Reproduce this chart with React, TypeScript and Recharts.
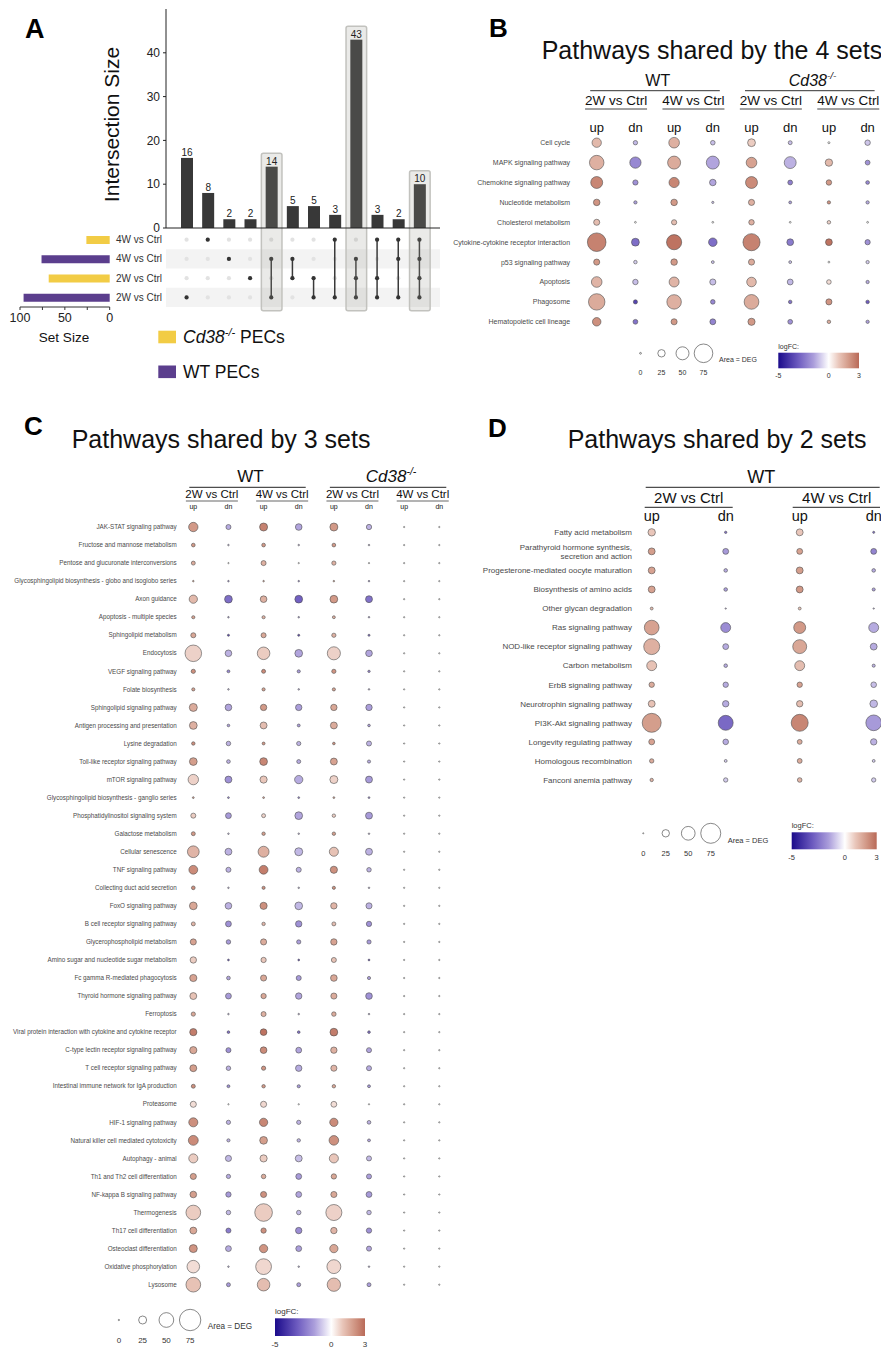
import React from 'react';
import {
  BarChart,
  Bar,
  XAxis,
  YAxis,
  ScatterChart,
  Scatter,
  ZAxis,
  ReferenceArea,
  ReferenceLine,
  LabelList,
  Cell,
} from 'recharts';

const FONT = '"Liberation Sans", Arial, Helvetica, sans-serif';
const YELLOW = '#f2cc45';
const PURPLE = '#5b3e8d';
const BAR_DARK = '#383838';

// ---------------- Panel A: UpSet plot ----------------
const setLabels = ['4W vs Ctrl', '4W vs Ctrl', '2W vs Ctrl', '2W vs Ctrl'];
const setGenotypes = ['Cd38', 'WT', 'Cd38', 'WT'];
const setSizes = [26, 76, 68, 96];
const setSizeTicks = [0, 25, 50, 75, 100];
const intersectionSizes = [16, 8, 2, 2, 14, 5, 5, 3, 43, 3, 2, 10];
const intersectionSets = [
  [3], [0], [1], [2], [1, 3], [1, 2], [2, 3], [0, 3], [1, 2, 3], [0, 2, 3], [0, 1, 3], [0, 1, 2, 3],
];
const highlightedIntersections = [4, 8, 11];
const intersectionTicks = [0, 10, 20, 30, 40];

// ---------------- Bubble panels ----------------
const columnLabels = ['up', 'dn'];
const contrastLabels = ['2W vs Ctrl', '4W vs Ctrl'];
const sizeLegendValues = [0, 25, 50, 75];
const fcLegendTicks = [-5, 0, 3];

// Panel B: pathways shared by the 4 sets
// columns: WT 2W up, WT 2W dn, WT 4W up, WT 4W dn, Cd38 2W up, Cd38 2W dn, Cd38 4W up, Cd38 4W dn
const pathwaysB = [
  'Cell cycle',
  'MAPK signaling pathway',
  'Chemokine signaling pathway',
  'Nucleotide metabolism',
  'Cholesterol metabolism',
  'Cytokine-cytokine receptor interaction',
  'p53 signaling pathway',
  'Apoptosis',
  'Phagosome',
  'Hematopoietic cell lineage',
];
const degB = [
  [35, 12, 41, 13, 28, 10, 1, 17],
  [59, 44, 52, 52, 41, 47, 26, 14],
  [47, 16, 39, 22, 47, 14, 17, 9],
  [22, 7, 22, 2, 20, 5, 7, 7],
  [20, 0, 16, 0, 17, 0, 8, 0],
  [78, 28, 62, 31, 71, 23, 23, 16],
  [20, 8, 22, 5, 20, 5, 0, 7],
  [41, 17, 38, 20, 36, 19, 13, 7],
  [68, 11, 59, 13, 60, 8, 20, 8],
  [31, 14, 20, 19, 25, 14, 8, 7],
];
const fcB = [
  [1.3, -1.1, 1.5, -1.0, 0.9, -1.0, 0, -0.9],
  [1.5, -2.0, 1.6, -1.4, 1.8, -1.2, 1.3, -1.8],
  [2.4, -1.8, 2.4, -1.4, 2.3, -2.2, 2.0, -2.0],
  [2.1, -1.5, 2.0, -1.0, 1.5, -1.5, 2.1, -1.3],
  [1.2, 0, 1.2, 0, 1.5, 0, 0.8, 0],
  [2.5, -2.6, 2.8, -2.6, 2.5, -2.3, 2.8, -1.8],
  [2.0, -0.8, 2.0, -1.0, 1.6, -1.0, 0, -0.8],
  [1.4, -1.0, 1.4, -1.0, 1.3, -1.1, 0.6, -1.3],
  [1.6, -3.6, 1.5, -2.0, 1.6, -2.5, 2.1, -3.0],
  [2.2, -2.5, 2.0, -2.1, 2.0, -1.8, 1.6, -1.5],
];

// Panel C: pathways shared by 3 sets
const pathwaysC = [
  'JAK-STAT signaling pathway',
  'Fructose and mannose metabolism',
  'Pentose and glucuronate interconversions',
  'Glycosphingolipid biosynthesis - globo and isoglobo series',
  'Axon guidance',
  'Apoptosis - multiple species',
  'Sphingolipid metabolism',
  'Endocytosis',
  'VEGF signaling pathway',
  'Folate biosynthesis',
  'Sphingolipid signaling pathway',
  'Antigen processing and presentation',
  'Lysine degradation',
  'Toll-like receptor signaling pathway',
  'mTOR signaling pathway',
  'Glycosphingolipid biosynthesis - ganglio series',
  'Phosphatidylinositol signaling system',
  'Galactose metabolism',
  'Cellular senescence',
  'TNF signaling pathway',
  'Collecting duct acid secretion',
  'FoxO signaling pathway',
  'B cell receptor signaling pathway',
  'Glycerophospholipid metabolism',
  'Amino sugar and nucleotide sugar metabolism',
  'Fc gamma R-mediated phagocytosis',
  'Thyroid hormone signaling pathway',
  'Ferroptosis',
  'Viral protein interaction with cytokine and cytokine receptor',
  'C-type lectin receptor signaling pathway',
  'T cell receptor signaling pathway',
  'Intestinal immune network for IgA production',
  'Proteasome',
  'HIF-1 signaling pathway',
  'Natural killer cell mediated cytotoxicity',
  'Autophagy - animal',
  'Th1 and Th2 cell differentiation',
  'NF-kappa B signaling pathway',
  'Thermogenesis',
  'Th17 cell differentiation',
  'Osteoclast differentiation',
  'Oxidative phosphorylation',
  'Lysosome',
];
const degC = [
  [30, 14, 25, 20, 25, 15, 0, 0],
  [9, 1, 9, 1, 9, 1, 0, 0],
  [10, 0, 14, 0, 11, 0, 0, 0],
  [1, 1, 1, 1, 1, 1, 0, 0],
  [26, 24, 20, 24, 24, 21, 0, 0],
  [7, 1, 7, 1, 6, 1, 0, 0],
  [14, 3, 14, 3, 11, 3, 0, 0],
  [57, 20, 42, 24, 44, 20, 0, 0],
  [11, 6, 10, 7, 11, 4, 0, 0],
  [7, 1, 7, 1, 7, 1, 0, 0],
  [25, 20, 19, 19, 19, 19, 0, 0],
  [24, 5, 21, 6, 21, 5, 0, 0],
  [8, 12, 6, 11, 5, 14, 0, 0],
  [24, 9, 24, 10, 21, 7, 0, 0],
  [34, 21, 22, 26, 25, 21, 0, 0],
  [2, 2, 2, 2, 2, 2, 0, 0],
  [14, 17, 10, 24, 8, 21, 0, 0],
  [10, 1, 8, 1, 8, 1, 0, 0],
  [39, 21, 36, 25, 29, 21, 0, 0],
  [28, 14, 28, 14, 22, 12, 0, 0],
  [9, 1, 7, 1, 7, 1, 0, 0],
  [24, 20, 22, 24, 19, 18, 0, 0],
  [10, 17, 8, 19, 10, 15, 0, 0],
  [18, 12, 18, 11, 19, 11, 0, 0],
  [19, 2, 15, 2, 14, 2, 0, 0],
  [22, 9, 18, 14, 20, 7, 0, 0],
  [21, 17, 15, 19, 18, 20, 0, 0],
  [11, 1, 14, 1, 12, 1, 0, 0],
  [22, 5, 20, 5, 24, 5, 0, 0],
  [22, 14, 20, 17, 19, 14, 0, 0],
  [21, 12, 11, 19, 18, 14, 0, 0],
  [10, 6, 8, 7, 8, 6, 0, 0],
  [18, 0, 18, 0, 17, 0, 0, 0],
  [29, 11, 26, 11, 26, 9, 0, 0],
  [32, 7, 24, 8, 31, 6, 0, 0],
  [29, 18, 22, 21, 29, 14, 0, 0],
  [18, 11, 12, 17, 15, 14, 0, 0],
  [20, 15, 18, 17, 18, 17, 0, 0],
  [50, 12, 61, 12, 55, 12, 0, 0],
  [21, 14, 15, 19, 19, 15, 0, 0],
  [25, 17, 26, 17, 26, 14, 0, 0],
  [42, 1, 54, 1, 47, 1, 0, 0],
  [50, 10, 42, 10, 45, 10, 0, 0],
];
const fcC = [
  [2.0, -1.3, 2.5, -1.4, 2.0, -1.2, 0, 0],
  [2.0, -1.0, 2.0, -1.0, 2.0, -1.0, 0, 0],
  [1.6, 0, 1.5, 0, 1.5, 0, 0, 0],
  [1.5, -1.5, 1.5, -1.5, 1.5, -1.5, 0, 0],
  [1.3, -2.6, 1.5, -2.9, 2.0, -2.5, 0, 0],
  [1.8, -1.5, 1.5, -1.5, 1.5, -1.5, 0, 0],
  [1.7, -3.5, 1.7, -3.5, 1.5, -2.5, 0, 0],
  [0.8, -1.2, 0.9, -1.4, 0.8, -1.4, 0, 0],
  [2.2, -2.0, 2.3, -1.6, 2.1, -2.0, 0, 0],
  [1.8, -1.0, 1.8, -1.0, 1.8, -1.0, 0, 0],
  [1.6, -1.4, 2.0, -1.5, 1.7, -1.5, 0, 0],
  [1.5, -1.5, 1.2, -1.5, 1.6, -1.5, 0, 0],
  [2.2, -1.2, 2.0, -1.2, 2.2, -1.2, 0, 0],
  [1.9, -1.2, 2.4, -1.3, 1.8, -1.3, 0, 0],
  [0.8, -1.8, 1.0, -1.3, 0.8, -1.6, 0, 0],
  [1.8, -2.0, 1.8, -2.0, 1.8, -2.0, 0, 0],
  [0.9, -1.6, 0.8, -1.4, 0.9, -1.6, 0, 0],
  [2.0, -1.0, 1.9, -1.0, 1.9, -1.0, 0, 0],
  [1.4, -1.2, 1.5, -1.1, 1.1, -1.2, 0, 0],
  [2.3, -1.2, 2.6, -1.2, 2.2, -1.2, 0, 0],
  [2.2, -1.0, 2.2, -1.0, 2.2, -1.0, 0, 0],
  [1.7, -1.2, 2.2, -1.1, 1.4, -1.2, 0, 0],
  [1.4, -1.8, 1.4, -1.8, 1.2, -1.8, 0, 0],
  [1.8, -1.6, 1.6, -1.5, 1.8, -1.6, 0, 0],
  [0.9, -3.0, 1.0, -3.0, 1.1, -3.0, 0, 0],
  [1.8, -1.4, 1.7, -1.6, 1.7, -1.5, 0, 0],
  [1.1, -1.6, 1.7, -1.4, 1.6, -1.8, 0, 0],
  [1.7, -1.0, 1.5, -1.0, 1.6, -1.0, 0, 0],
  [2.6, -2.5, 2.8, -2.5, 2.6, -2.5, 0, 0],
  [1.7, -1.8, 2.3, -1.4, 1.5, -1.4, 0, 0],
  [1.9, -1.2, 2.1, -1.3, 1.4, -1.3, 0, 0],
  [2.2, -1.8, 2.0, -1.6, 1.7, -1.6, 0, 0],
  [0.6, 0, 0.7, 0, 0.6, 0, 0, 0],
  [2.2, -1.2, 2.4, -1.2, 2.3, -1.2, 0, 0],
  [2.3, -1.2, 1.9, -1.2, 2.2, -1.4, 0, 0],
  [0.9, -1.1, 0.9, -1.0, 1.0, -1.1, 0, 0],
  [1.9, -1.3, 1.6, -1.6, 1.7, -1.5, 0, 0],
  [1.9, -1.6, 2.2, -1.4, 1.7, -1.6, 0, 0],
  [0.9, -1.1, 0.9, -1.1, 0.8, -1.1, 0, 0],
  [1.7, -2.3, 2.2, -1.9, 1.4, -1.8, 0, 0],
  [2.1, -1.3, 2.1, -1.5, 1.7, -1.4, 0, 0],
  [0.6, -1.0, 0.7, -1.0, 0.7, -1.0, 0, 0],
  [1.1, -1.6, 1.2, -1.5, 1.2, -1.5, 0, 0],
];

// Panel D: pathways shared by 2 sets (WT 2W up, WT 2W dn, WT 4W up, WT 4W dn)
const pathwaysD = [
  'Fatty acid metabolism',
  'Parathyroid hormone synthesis,\nsecretion and action',
  'Progesterone-mediated oocyte maturation',
  'Biosynthesis of amino acids',
  'Other glycan degradation',
  'Ras signaling pathway',
  'NOD-like receptor signaling pathway',
  'Carbon metabolism',
  'ErbB signaling pathway',
  'Neurotrophin signaling pathway',
  'PI3K-Akt signaling pathway',
  'Longevity regulating pathway',
  'Homologous recombination',
  'Fanconi anemia pathway',
];
const degD = [
  [25, 5, 23, 4],
  [23, 19, 19, 19],
  [23, 10, 23, 10],
  [23, 10, 23, 8],
  [7, 1, 7, 1],
  [54, 35, 43, 35],
  [59, 19, 51, 23],
  [35, 10, 35, 8],
  [17, 17, 17, 18],
  [23, 21, 21, 26],
  [71, 55, 63, 58],
  [19, 18, 15, 21],
  [13, 7, 15, 7],
  [9, 13, 14, 13],
];
const fcD = [
  [1.0, -2.5, 1.0, -2.5],
  [1.9, -1.6, 1.8, -2.1],
  [1.8, -1.3, 1.9, -1.3],
  [1.8, -1.5, 2.0, -1.5],
  [1.2, -1.0, 1.0, -1.0],
  [1.8, -1.9, 2.0, -1.3],
  [1.5, -1.3, 1.7, -1.3],
  [1.1, -1.3, 1.2, -1.2],
  [1.6, -1.3, 1.8, -1.0],
  [1.1, -1.3, 1.2, -1.1],
  [1.9, -2.7, 2.4, -1.6],
  [1.8, -1.3, 1.6, -1.2],
  [1.6, -0.8, 1.6, -0.8],
  [1.4, -0.8, 1.4, -0.8],
];

// logFC colour scale (-5 .. 0 .. 3)
const fcStops: Array<[number, number[]]> = [
  [-5, [27, 11, 139]],
  [-3, [110, 92, 192]],
  [-1.5, [171, 158, 219]],
  [0, [255, 255, 255]],
  [1, [233, 198, 186]],
  [2, [210, 153, 135]],
  [3, [185, 106, 88]],
];
function fcColor(v: number): string {
  const x = Math.max(-5, Math.min(3, v));
  for (let i = 1; i < fcStops.length; i++) {
    const [v0, c0] = fcStops[i - 1];
    const [v1, c1] = fcStops[i];
    if (x <= v1) {
      const t = (x - v0) / (v1 - v0);
      return `rgb(${c0.map((c, k) => Math.round(c + (c1[k] - c) * t)).join(',')})`;
    }
  }
  return 'rgb(185,106,88)';
}

// ---------------- layout of bubble panels ----------------
type PanelCfg = {
  left: number;
  top: number;
  plotLeft: number;
  plotTop: number;
  stepX: number;
  stepY: number;
  padX0: number;
  padX1: number;
  nCols: number;
  labelFont: number;
  labelGap: number;
  rRange: [number, number];
};

const cfgB: PanelCfg = {
  left: 440, top: 0, plotLeft: 585.1, plotTop: 132.75, stepX: 38.7, stepY: 19.9,
  padX0: 0.3, padX1: 0.3, nCols: 8, labelFont: 7, labelGap: 15, rRange: [0.9, 9.3],
};
const cfgC: PanelCfg = {
  left: 0, top: 380, plotLeft: 177.5, plotTop: 518, stepX: 35.14, stepY: 18.04,
  padX0: 0.45, padX1: 0.45, nCols: 8, labelFont: 6.3, labelGap: 0.8, rRange: [0.65, 10.7],
};
const cfgD: PanelCfg = {
  left: 440, top: 380, plotLeft: 633.2, plotTop: 522.8, stepX: 74, stepY: 19.05,
  padX0: 0.25, padX1: 0.09, nCols: 4, labelFont: 8, labelGap: 1.2, rRange: [0.55, 10.0],
};

const colX = (cfg: PanelCfg, i: number) => cfg.plotLeft + (i + cfg.padX0) * cfg.stepX;

// ---------------- shapes / ticks ----------------
const renderBubble = (props: any) => {
  const { cx, cy, size } = props;
  const fc = props.payload?.fc ?? props.fc ?? 0;
  const r = Number.isFinite(size) ? Math.max(size, 0.5) : 2;
  return <circle cx={cx} cy={cy} r={r} fill={fcColor(fc)} stroke="#4f4f4f" strokeWidth={0.6} />;
};

const renderOpenCircle = (props: any) => {
  const { cx, cy, size } = props;
  const r = Number.isFinite(size) ? Math.max(size, 0.5) : 2;
  return <circle cx={cx} cy={cy} r={r} fill="none" stroke="#555" strokeWidth={0.7} />;
};

function PathwayTick(props: any) {
  const { x, y, payload, names, fontSize } = props;
  const lines = String(names[payload.value] ?? '').split('\n');
  const lh = fontSize * 1.13;
  const y0 = y - ((lines.length - 1) * lh) / 2 + fontSize * 0.35;
  return (
    <text x={x} y={y0} textAnchor="end" fontSize={fontSize} fill="#4a4a4a" fontFamily={FONT}>
      {lines.map((l, i) => (
        <tspan key={i} x={x} dy={i === 0 ? 0 : lh}>
          {l}
        </tspan>
      ))}
    </text>
  );
}

function BubblePanel({ cfg, pathways, deg, fc }: { cfg: PanelCfg; pathways: string[]; deg: number[][]; fc: number[][] }) {
  const cells: any[] = [];
  deg.forEach((row, r) =>
    row.forEach((d, c) => cells.push({ col: c, row: r, deg: d, fc: fc[r][c], pathway: pathways[r] })),
  );
  const nRows = pathways.length;
  const yAxisWidth = cfg.plotLeft - cfg.left;
  const plotW = (cfg.nCols - 1 + cfg.padX0 + cfg.padX1) * cfg.stepX;
  const width = yAxisWidth + plotW + 1;
  const plotH = nRows * cfg.stepY;
  const marginTop = cfg.plotTop - cfg.top;
  const height = marginTop + plotH + 5;
  return (
    <div style={{ position: 'absolute', left: cfg.left, top: cfg.top }}>
      <ScatterChart width={width} height={height} margin={{ top: marginTop, right: 1, bottom: 5, left: 0 }}>
        <XAxis type="number" dataKey="col" domain={[-cfg.padX0, cfg.nCols - 1 + cfg.padX1]} hide />
        <YAxis
          type="number"
          dataKey="row"
          domain={[-0.5, nRows - 0.5]}
          reversed
          ticks={pathways.map((_, i) => i)}
          interval={0}
          width={yAxisWidth}
          axisLine={false}
          tickLine={false}
          tickSize={0}
          tickMargin={cfg.labelGap}
          tick={<PathwayTick names={pathways} fontSize={cfg.labelFont} />}
        />
        <ZAxis type="number" dataKey="deg" domain={[0, 75]} range={cfg.rRange} />
        <Scatter data={cells} shape={renderBubble} isAnimationActive={false} />
      </ScatterChart>
    </div>
  );
}

function SizeLegend({ left, top, width, height, axisH, gap, font, rRange }: any) {
  const data = sizeLegendValues.map((d, i) => ({ col: i, row: 0.5, deg: d }));
  return (
    <div style={{ position: 'absolute', left, top }}>
      <ScatterChart width={width} height={height} margin={{ top: 0, right: 0, bottom: 0, left: 0 }}>
        <XAxis
          type="number"
          dataKey="col"
          domain={[-0.5, 3.5]}
          ticks={[0, 1, 2, 3]}
          interval={0}
          tickFormatter={(i: number) => String(sizeLegendValues[i])}
          height={axisH}
          axisLine={false}
          tickLine={false}
          tickSize={0}
          tickMargin={gap}
          tick={{ fontSize: font, fill: '#333' }}
        />
        <YAxis type="number" dataKey="row" domain={[0, 1]} hide />
        <ZAxis type="number" dataKey="deg" domain={[0, 75]} range={rRange} />
        <Scatter data={data} shape={renderOpenCircle} isAnimationActive={false} />
      </ScatterChart>
    </div>
  );
}

// ---------------- UpSet panel ----------------
const IntersectionBar = (props: any) => {
  const { x, y, width, height, index } = props;
  const hi = props.payload?.hi ?? highlightedIntersections.includes(index);
  return (
    <g>
      <rect x={x} y={y} width={width} height={height} fill={BAR_DARK} />
      {hi && (
        <rect
          x={x - 4.3}
          y={y - 13.5}
          width={width + 8.6}
          height={height + 13.5 + 82.7}
          rx={2}
          fill="rgba(150,150,140,0.2)"
          stroke="#c2c2be"
          strokeWidth={1.5}
        />
      )}
    </g>
  );
};

const dotShape = (fill: string) => (props: any) => <circle cx={props.cx} cy={props.cy} r={2.1} fill={fill} />;

function UpSetPanel() {
  const barData = intersectionSizes.map((v, i) => ({
    id: `I${i + 1}`,
    size: v,
    hi: highlightedIntersections.includes(i),
  }));
  const gridPoints: any[] = [];
  intersectionSets.forEach((_, c) => setLabels.forEach((__, r) => gridPoints.push({ col: c, row: r })));
  const setData = setLabels.map((n, i) => ({ name: `${setGenotypes[i]} ${n}`, size: setSizes[i], g: setGenotypes[i] }));
  return (
    <>
      {/* membership matrix */}
      <div style={{ position: 'absolute', left: 0, top: 230 }}>
        <ScatterChart width={440} height={77} margin={{ top: 0, right: 0, bottom: 0, left: 0 }}>
          <XAxis type="number" dataKey="col" domain={[-0.9724, 11.9724]} hide />
          <YAxis
            type="number"
            dataKey="row"
            domain={[-0.5, 3.5]}
            reversed
            ticks={[0, 1, 2, 3]}
            interval={0}
            tickFormatter={(v: number) => setLabels[v]}
            width={166}
            axisLine={false}
            tickLine={false}
            tickSize={2}
            tickMargin={2}
            tick={{ fontSize: 10, fill: '#333' }}
          />
          <ReferenceArea y1={0.5} y2={1.5} fill="#e4e4e4" fillOpacity={0.45} stroke="none" />
          <ReferenceArea y1={2.5} y2={3.5} fill="#e4e4e4" fillOpacity={0.45} stroke="none" />
          <Scatter data={gridPoints} shape={dotShape('#e2e2e2')} isAnimationActive={false} />
          {intersectionSets.map((members, c) => (
            <Scatter
              key={c}
              data={members.map((r) => ({ col: c, row: r }))}
              line={{ stroke: '#3a3a3a', strokeWidth: 1.5 }}
              shape={dotShape('#333')}
              isAnimationActive={false}
            />
          ))}
        </ScatterChart>
      </div>
      {/* set sizes */}
      <div style={{ position: 'absolute', left: 0, top: 230 }}>
        <BarChart
          layout="vertical"
          width={166}
          height={107}
          data={setData}
          margin={{ top: 0, right: 56.3, left: 20, bottom: 0 }}
        >
          <XAxis
            type="number"
            domain={[0, 100]}
            reversed
            ticks={setSizeTicks}
            interval={0}
            tickFormatter={(v: number) => (v % 50 === 0 ? String(v) : '')}
            height={30}
            tick={{ fontSize: 12.5, fill: '#222' }}
            tickSize={3}
            tickMargin={3}
            axisLine={{ stroke: '#333' }}
            tickLine={{ stroke: '#333' }}
          />
          <YAxis type="category" dataKey="name" hide />
          <Bar dataKey="size" barSize={8} isAnimationActive={false}>
            {setData.map((d, i) => (
              <Cell key={i} fill={d.g === 'WT' ? PURPLE : YELLOW} />
            ))}
          </Bar>
        </BarChart>
      </div>
      {/* intersection sizes */}
      <div style={{ position: 'absolute', left: 0, top: 0 }}>
        <BarChart width={440} height={320} data={barData} margin={{ top: 9, right: 0, left: 0, bottom: 92 }}>
          <XAxis dataKey="id" hide padding={{ left: 10, right: 10 }} />
          <YAxis
            width={166}
            domain={[0, 50]}
            ticks={intersectionTicks}
            interval={0}
            tick={{ fontSize: 12, fill: '#222' }}
            tickSize={3}
            tickMargin={3}
            axisLine={{ stroke: '#222' }}
            tickLine={{ stroke: '#222' }}
          />
          <ReferenceLine y={0} stroke="#222" />
          <Bar dataKey="size" barSize={12} isAnimationActive={false} shape={IntersectionBar}>
            <LabelList dataKey="size" position="top" offset={2} style={{ fontSize: 10, fill: '#222' }} />
          </Bar>
        </BarChart>
      </div>
    </>
  );
}

// ---------------- header / legend text ----------------
function Cd38Text({ x, y, size, anchor = 'middle' }: any) {
  return (
    <text x={x} y={y} fontSize={size} textAnchor={anchor} fill="#111" fontStyle="italic">
      <tspan>Cd38</tspan>
      <tspan fontSize={size * 0.62} dy={-size * 0.42}>
        -/-
      </tspan>
    </text>
  );
}

type HeaderSpec = {
  groups: { label: string; italic?: boolean; cols: [number, number] }[];
  groupBase: number;
  groupFont: number;
  groupDx: number;
  groupLineY: number;
  groupLineOff: [number, number];
  groupLineColor: string;
  pairs: [number, number][];
  subBase: number;
  subFont: number;
  subDx: number;
  subLineY: number;
  subLineW: number;
  subLineColor: string;
  subLineWidth: number;
  udBase: number;
  udFont: number;
};

function PanelHeader({ cfg, spec }: { cfg: PanelCfg; spec: HeaderSpec }) {
  const out: React.ReactNode[] = [];
  spec.groups.forEach((g, gi) => {
    const a = colX(cfg, g.cols[0]);
    const b = colX(cfg, g.cols[1]);
    const cx = (a + b) / 2 + spec.groupDx;
    out.push(
      <line
        key={`gl${gi}`}
        x1={a + spec.groupLineOff[0]}
        x2={Math.min(b + spec.groupLineOff[1], 880)}
        y1={spec.groupLineY}
        y2={spec.groupLineY}
        stroke={spec.groupLineColor}
        strokeWidth={1}
      />,
    );
    out.push(
      g.italic ? (
        <Cd38Text key={`gt${gi}`} x={cx} y={spec.groupBase} size={spec.groupFont} />
      ) : (
        <text key={`gt${gi}`} x={cx} y={spec.groupBase} fontSize={spec.groupFont} textAnchor="middle" fill="#111">
          {g.label}
        </text>
      ),
    );
  });
  spec.pairs.forEach((p, pi) => {
    const cx = (colX(cfg, p[0]) + colX(cfg, p[1])) / 2 + spec.subDx;
    out.push(
      <text key={`st${pi}`} x={cx} y={spec.subBase} fontSize={spec.subFont} textAnchor="middle" fill="#111">
        {contrastLabels[pi % 2]}
      </text>,
    );
    out.push(
      <line
        key={`sl${pi}`}
        x1={cx - spec.subLineW / 2}
        x2={Math.min(cx + spec.subLineW / 2, 880)}
        y1={spec.subLineY}
        y2={spec.subLineY}
        stroke={spec.subLineColor}
        strokeWidth={spec.subLineWidth}
      />,
    );
  });
  for (let i = 0; i < cfg.nCols; i++) {
    out.push(
      <text key={`ud${i}`} x={colX(cfg, i)} y={spec.udBase} fontSize={spec.udFont} textAnchor="middle" fill="#111">
        {columnLabels[i % 2]}
      </text>,
    );
  }
  return <g>{out}</g>;
}

function ColorLegend({ x, y, w, h, titleBase, tickBase, font }: any) {
  return (
    <g>
      <text x={x} y={titleBase} fontSize={font} fill="#333">
        logFC:
      </text>
      <rect x={x} y={y} width={w} height={h} fill="url(#fcGrad)" />
      {fcLegendTicks.map((v) => (
        <text key={v} x={x + ((v + 5) / 8) * w} y={tickBase} fontSize={font} textAnchor="middle" fill="#333">
          {v}
        </text>
      ))}
    </g>
  );
}

const headerB: HeaderSpec = {
  groups: [
    { label: 'WT', cols: [0, 3] },
    { label: 'Cd38', italic: true, cols: [4, 7] },
  ],
  groupBase: 86, groupFont: 16, groupDx: 3, groupLineY: 90.7, groupLineOff: [-6.5, 7], groupLineColor: '#333',
  pairs: [[0, 1], [2, 3], [4, 5], [6, 7]],
  subBase: 105, subFont: 13.5, subDx: 0, subLineY: 109, subLineW: 62, subLineColor: '#444', subLineWidth: 1,
  udBase: 131.5, udFont: 13,
};
const headerC: HeaderSpec = {
  groups: [
    { label: 'WT', cols: [0, 3] },
    { label: 'Cd38', italic: true, cols: [4, 7] },
  ],
  groupBase: 481.7, groupFont: 17, groupDx: 4.5, groupLineY: 487.3, groupLineOff: [-4, 7], groupLineColor: '#222',
  pairs: [[0, 1], [2, 3], [4, 5], [6, 7]],
  subBase: 498.3, subFont: 11.5, subDx: 1, subLineY: 501, subLineW: 52, subLineColor: '#9a9a9a', subLineWidth: 1.3,
  udBase: 508.5, udFont: 7,
};
const headerD: HeaderSpec = {
  groups: [{ label: 'WT', cols: [0, 3] }],
  groupBase: 482.7, groupFont: 18, groupDx: -1.5, groupLineY: 487.3, groupLineOff: [-6, 6], groupLineColor: '#222',
  pairs: [[0, 1], [2, 3]],
  subBase: 503.3, subFont: 15, subDx: 0, subLineY: 507.3, subLineW: 88, subLineColor: '#222', subLineWidth: 1,
  udBase: 520.5, udFont: 14.5,
};

function Overlay() {
  return (
    <svg
      width={881}
      height={1348}
      style={{ position: 'absolute', left: 0, top: 0, pointerEvents: 'none' }}
      fontFamily={FONT}
    >
      <defs>
        <linearGradient id="fcGrad" x1="0" x2="1" y1="0" y2="0">
          {fcStops.map(([v, c]) => (
            <stop key={v} offset={(v + 5) / 8} stopColor={`rgb(${c.join(',')})`} />
          ))}
        </linearGradient>
      </defs>

      {/* panel letters */}
      <text x={25} y={38} fontSize={27} fontWeight="bold" fill="#000">A</text>
      <text x={489} y={37} fontSize={26} fontWeight="bold" fill="#000">B</text>
      <text x={24} y={435} fontSize={26} fontWeight="bold" fill="#000">C</text>
      <text x={488} y={437} fontSize={26} fontWeight="bold" fill="#000">D</text>

      {/* panel A texts */}
      <text transform="translate(118.5,124.5) rotate(-90)" textAnchor="middle" fontSize={21} fill="#111">
        Intersection Size
      </text>
      <text x={64} y={342.3} textAnchor="middle" fontSize={13.5} fill="#111">Set Size</text>
      <rect x={158.3} y={330.7} width={17.7} height={12.6} fill={YELLOW} />
      <text x={183} y={342.7} fontSize={17.5} fill="#111">
        <tspan fontStyle="italic">Cd38</tspan>
        <tspan fontStyle="italic" fontSize={11} dy={-7}>-/-</tspan>
        <tspan dy={7}> PECs</tspan>
      </text>
      <rect x={158.3} y={365.5} width={17.7} height={12.6} fill={PURPLE} />
      <text x={183} y={378} fontSize={17.5} fill="#111">WT PECs</text>

      {/* titles */}
      <text x={541.7} y={58.5} fontSize={25} fill="#111">Pathways shared by the 4 sets</text>
      <text x={71.7} y={447.5} fontSize={25} fill="#111">Pathways shared by 3 sets</text>
      <text x={567.7} y={447.5} fontSize={25} fill="#111">Pathways shared by 2 sets</text>

      <PanelHeader cfg={cfgB} spec={headerB} />
      <PanelHeader cfg={cfgC} spec={headerC} />
      <PanelHeader cfg={cfgD} spec={headerD} />

      {/* legends */}
      <text x={719} y={361.8} fontSize={7} fill="#333">Area = DEG</text>
      <ColorLegend x={778.3} y={352.7} w={80.7} h={15.6} titleBase={348.5} tickBase={377.5} font={7} />

      <text x={207.7} y={1329} fontSize={8.2} fill="#333">Area = DEG</text>
      <ColorLegend x={275} y={1318.3} w={90} h={17.7} titleBase={1313.5} tickBase={1346.5} font={8} />

      <text x={727.7} y={842.5} fontSize={7.5} fill="#333">Area = DEG</text>
      <ColorLegend x={791.7} y={832.3} w={85} h={17} titleBase={827.5} tickBase={859.5} font={7.5} />
    </svg>
  );
}

export default function App() {
  return (
    <div
      style={{
        position: 'absolute',
        left: 0,
        top: 0,
        width: 881,
        height: 1348,
        background: '#fff',
        fontFamily: FONT,
        overflow: 'hidden',
      }}
    >
      <UpSetPanel />
      <BubblePanel cfg={cfgB} pathways={pathwaysB} deg={degB} fc={fcB} />
      <BubblePanel cfg={cfgC} pathways={pathwaysC} deg={degC} fc={fcC} />
      <BubblePanel cfg={cfgD} pathways={pathwaysD} deg={degD} fc={fcD} />
      <SizeLegend left={629.5} top={340} width={84} height={40} axisH={13.4} gap={3.2} font={7} rRange={cfgB.rRange} />
      <SizeLegend left={107} top={1305} width={95} height={43} axisH={13} gap={2.8} font={8} rRange={cfgC.rRange} />
      <SizeLegend left={632} top={820} width={90} height={40} axisH={13.4} gap={4.1} font={7.5} rRange={cfgD.rRange} />
      <Overlay />
    </div>
  );
}
